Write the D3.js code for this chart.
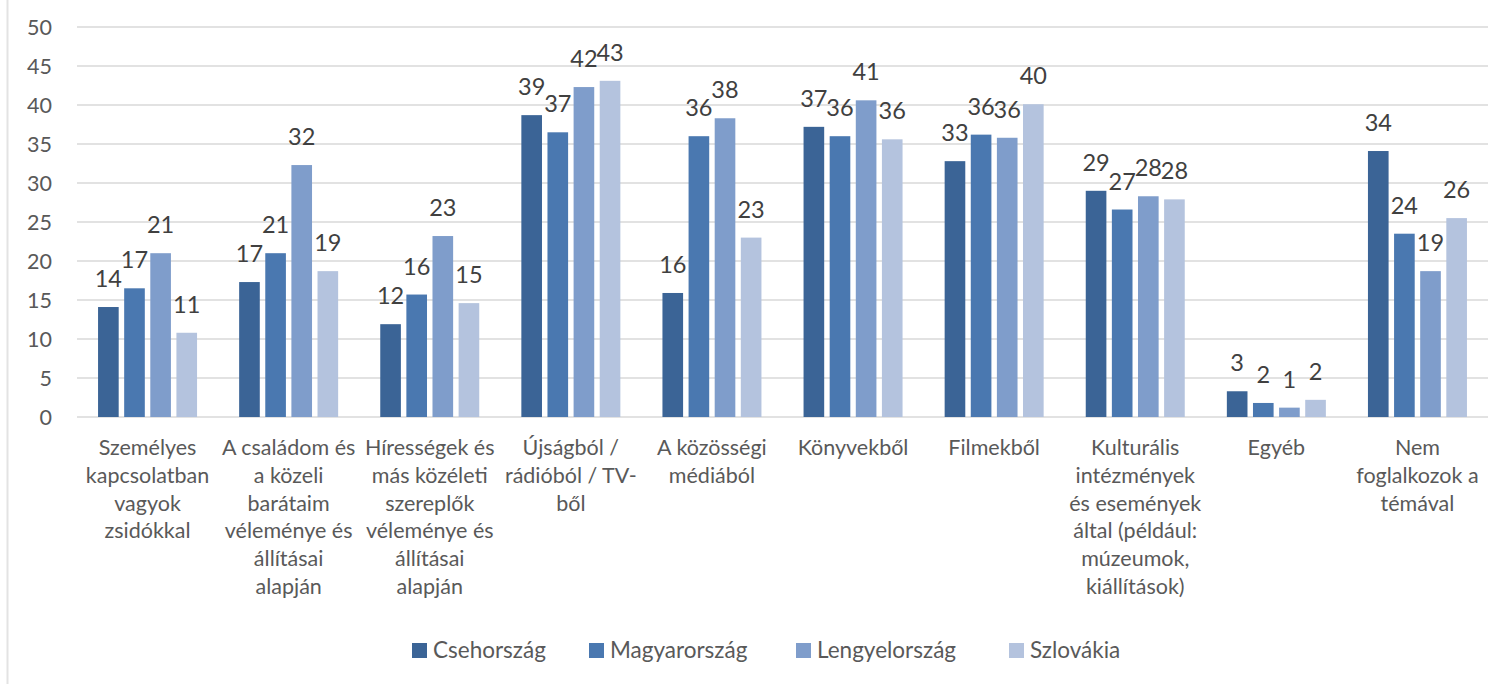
<!DOCTYPE html>
<html>
<head>
<meta charset="utf-8">
<script src="https://cdn.jsdelivr.net/npm/d3@7"></script>
<style>
  html, body { margin: 0; padding: 0; background: #fff; }
  svg { display: block; font-family: Lato, "Open Sans", sans-serif; }
</style>
</head>
<body>
<div id="chart"></div>
<script>
// ---------- data ----------
const categories = [
  ["Személyes", "kapcsolatban", "vagyok", "zsidókkal"],
  ["A családom és", "a közeli", "barátaim", "véleménye és", "állításai", "alapján"],
  ["Hírességek és", "más közéleti", "szereplők", "véleménye és", "állításai", "alapján"],
  ["Újságból /", "rádióból / TV-", "ből"],
  ["A közösségi", "médiából"],
  ["Könyvekből"],
  ["Filmekből"],
  ["Kulturális", "intézmények", "és események", "által (például:", "múzeumok,", "kiállítások)"],
  ["Egyéb"],
  ["Nem", "foglalkozok a", "témával"]
];
const seriesNames = ["Csehország", "Magyarország", "Lengyelország", "Szlovákia"];
const seriesColors = ["#3b6496", "#4a78b0", "#7f9dcb", "#b4c3de"];

const cseh    = [14.1, 17.3, 11.9, 38.7, 15.9, 37.2, 32.8, 29.0, 3.3, 34.1];
const magyar  = [16.5, 21.0, 15.7, 36.5, 36.0, 36.0, 36.2, 26.6, 1.8, 23.5];
const lengyel = [21.0, 32.3, 23.2, 42.3, 38.3, 40.6, 35.8, 28.3, 1.2, 18.7];
const szlovak = [10.8, 18.7, 14.6, 43.1, 23.0, 35.6, 40.1, 27.9, 2.2, 25.5];
const seriesValues = [cseh, magyar, lengyel, szlovak];

const yTicks = [0, 5, 10, 15, 20, 25, 30, 35, 40, 45, 50];

// ---------- draw ----------
const W = 1507, H = 684;
const plot = { left: 77, right: 1488, top: 27, bottom: 417 };

const svg = d3.select("#chart").append("svg").attr("width", W).attr("height", H);

// outer frame (only left edge visible in the picture)
svg.append("line")
  .attr("x1", 7.5).attr("x2", 7.5).attr("y1", 0).attr("y2", H)
  .attr("stroke", "#e3e3e3").attr("stroke-width", 2);

const catIdx = d3.range(categories.length);
const x0 = d3.scaleBand().domain(catIdx).range([plot.left, plot.right]).padding(0);
const bw = x0.bandwidth();
const x1 = d3.scaleBand().domain(d3.range(seriesNames.length))
  .range([bw / 2 - 49.5, bw / 2 + 49.5]).paddingInner(0.21);
const y = d3.scaleLinear().domain([0, 50]).range([plot.bottom, plot.top]);

// gridlines
svg.append("g").selectAll("line").data(yTicks).enter().append("line")
  .attr("x1", plot.left).attr("x2", plot.right)
  .attr("y1", d => y(d)).attr("y2", d => y(d))
  .attr("stroke", "#d9d9d9").attr("stroke-width", 1.5);

// y tick labels
svg.append("g").selectAll("text").data(yTicks).enter().append("text")
  .attr("x", 52).attr("y", d => y(d))
  .attr("dy", "0.36em")
  .attr("text-anchor", "end")
  .attr("fill", "#595959")
  .style("font-size", "21.5px")
  .text(d => d);

// bars + labels
const groups = svg.append("g").selectAll("g").data(catIdx).enter().append("g")
  .attr("transform", i => `translate(${x0(i)},0)`);

groups.selectAll("rect")
  .data(i => seriesValues.map((vals, s) => ({ s, v: vals[i] })))
  .enter().append("rect")
  .attr("x", d => x1(d.s))
  .attr("width", x1.bandwidth())
  .attr("y", d => y(d.v))
  .attr("height", d => y(0) - y(d.v))
  .attr("fill", d => seriesColors[d.s]);

groups.selectAll("text.val")
  .data(i => seriesValues.map((vals, s) => ({ s, v: vals[i] })))
  .enter().append("text")
  .attr("class", "val")
  .attr("x", d => x1(d.s) + x1.bandwidth() / 2)
  .attr("y", d => y(d.v) - 20)
  .attr("text-anchor", "middle")
  .attr("fill", "#404040")
  .style("font-size", "23.5px")
  .text(d => Math.round(d.v));

// category labels
groups.each(function (i) {
  const t = d3.select(this).append("text")
    .attr("text-anchor", "middle")
    .attr("fill", "#595959")
    .style("font-size", "21.5px");
  categories[i].forEach((line, k) => {
    t.append("tspan").attr("x", bw / 2).attr("y", 455 + k * 27.8).text(line);
  });
});

// legend
const legendX = [412, 589, 796, 1009];
const leg = svg.append("g").selectAll("g").data(seriesNames).enter().append("g")
  .attr("transform", (d, i) => `translate(${legendX[i]},650)`);
leg.append("rect").attr("x", 0).attr("y", -7).attr("width", 15).attr("height", 15)
  .attr("fill", (d, i) => seriesColors[i]);
leg.append("text").attr("x", 21).attr("y", 0).attr("dy", "0.36em")
  .attr("fill", "#595959").style("font-size", "22.5px")
  .text(d => d);
</script>
</body>
</html>
